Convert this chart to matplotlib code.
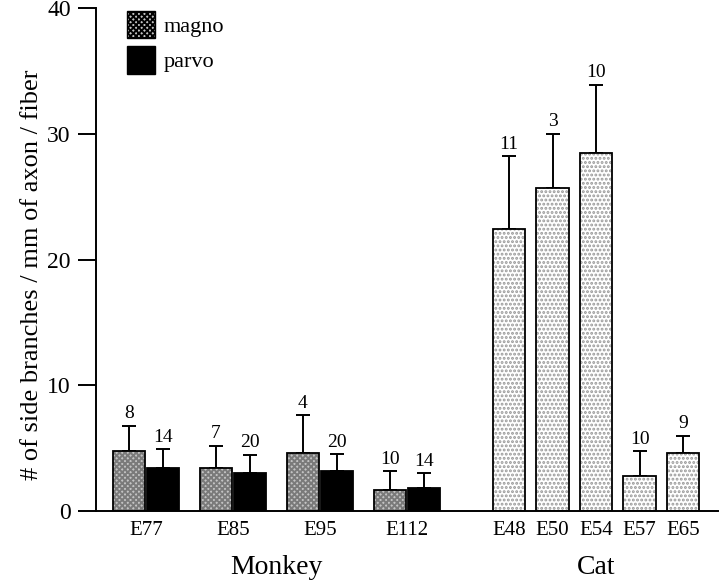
import matplotlib.pyplot as plt
from matplotlib.patches import Patch
import numpy as np

# Monkey data (magno / parvo pairs)
monkey_ages = ['E77', 'E85', 'E95', 'E112']
magno_mean = [4.75, 3.4, 4.6, 1.65]
magno_top = [6.8, 5.2, 7.6, 3.15]
magno_n = [8, 7, 4, 10]
parvo_mean = [3.45, 3.0, 3.15, 1.8]
parvo_top = [4.9, 4.45, 4.5, 3.0]
parvo_n = [14, 20, 20, 14]

# Cat data
cat_ages = ['E48', 'E50', 'E54', 'E57', 'E65']
cat_mean = [22.4, 25.7, 28.5, 2.8, 4.6]
cat_top = [28.2, 30.0, 33.9, 4.75, 5.95]
cat_n = [11, 3, 10, 10, 9]

plt.rcParams['font.family'] = ['Liberation Serif', 'DejaVu Serif']
plt.rcParams['hatch.linewidth'] = 1.4

fig = plt.figure(figsize=(7.2, 5.82), dpi=100)
ax = fig.add_axes([0.133, 0.122, 0.864, 0.864])

w = 0.74
mx = np.arange(len(monkey_ages)) * 2.0
m_pos = mx - 0.39
p_pos = mx + 0.39
cx = 8.35 + np.arange(len(cat_ages))

def hatched(x, h, face, hcol, hatch):
    ax.bar(x, h, w, color=face, edgecolor=hcol, hatch=hatch, linewidth=0, zorder=2)
    ax.bar(x, h, w, fill=False, edgecolor='black', linewidth=1.3, zorder=3)

hatched(m_pos, magno_mean, '#c4c4c4', '#7a7a7a', 'xxxxxx')
ax.bar(p_pos, parvo_mean, w, color='black', edgecolor='black', linewidth=1.3, zorder=3)
hatched(cx, cat_mean, 'white', '#999999', '....')

def errs(x, mean, top, ns):
    mean = np.array(mean)
    top = np.array(top)
    ax.errorbar(x, mean, yerr=[np.zeros_like(mean), top - mean], fmt='none',
                ecolor='black', elinewidth=1.4, capsize=4.8, capthick=1.4, zorder=1)
    for xi, ti, n in zip(x, top, ns):
        ax.text(xi, ti + 0.3, str(n), ha='center', va='bottom', fontsize=14)

errs(m_pos, magno_mean, magno_top, magno_n)
errs(p_pos, parvo_mean, parvo_top, parvo_n)
errs(cx, cat_mean, cat_top, cat_n)

ax.set_xlim(-1.15, 13.15)
ax.set_ylim(0, 40)
ax.set_yticks([0, 10, 20, 30, 40])
ax.tick_params(axis='y', direction='out', length=13, width=1.4, labelsize=17, pad=5)
ax.set_xticks(list(mx) + list(cx))
ax.set_xticklabels(monkey_ages + cat_ages, fontsize=15)
ax.tick_params(axis='x', length=0, pad=7)
for s in ['top', 'right']:
    ax.spines[s].set_visible(False)
for s in ['left', 'bottom']:
    ax.spines[s].set_linewidth(1.4)

ax.set_ylabel('# of side branches / mm of axon / fiber', fontsize=19, labelpad=8)
ax.yaxis.set_label_coords(-0.085, 0.47)

ax.text(np.mean(mx), -0.088, 'Monkey', transform=ax.get_xaxis_transform(),
        ha='center', va='top', fontsize=20)
ax.text(np.mean(cx), -0.088, 'Cat', transform=ax.get_xaxis_transform(),
        ha='center', va='top', fontsize=20)

handles = [Patch(facecolor='#c4c4c4', edgecolor='black', hatch='xxxxxx', linewidth=1.0),
           Patch(facecolor='black', edgecolor='black')]
ax.legend(handles, ['magno', 'parvo'], loc='upper left', bbox_to_anchor=(0.018, 1.035),
          frameon=False, fontsize=16, handlelength=1.25, handleheight=1.55,
          handletextpad=0.4, labelspacing=0.35)

plt.savefig('out.png', dpi=100, facecolor='white')
